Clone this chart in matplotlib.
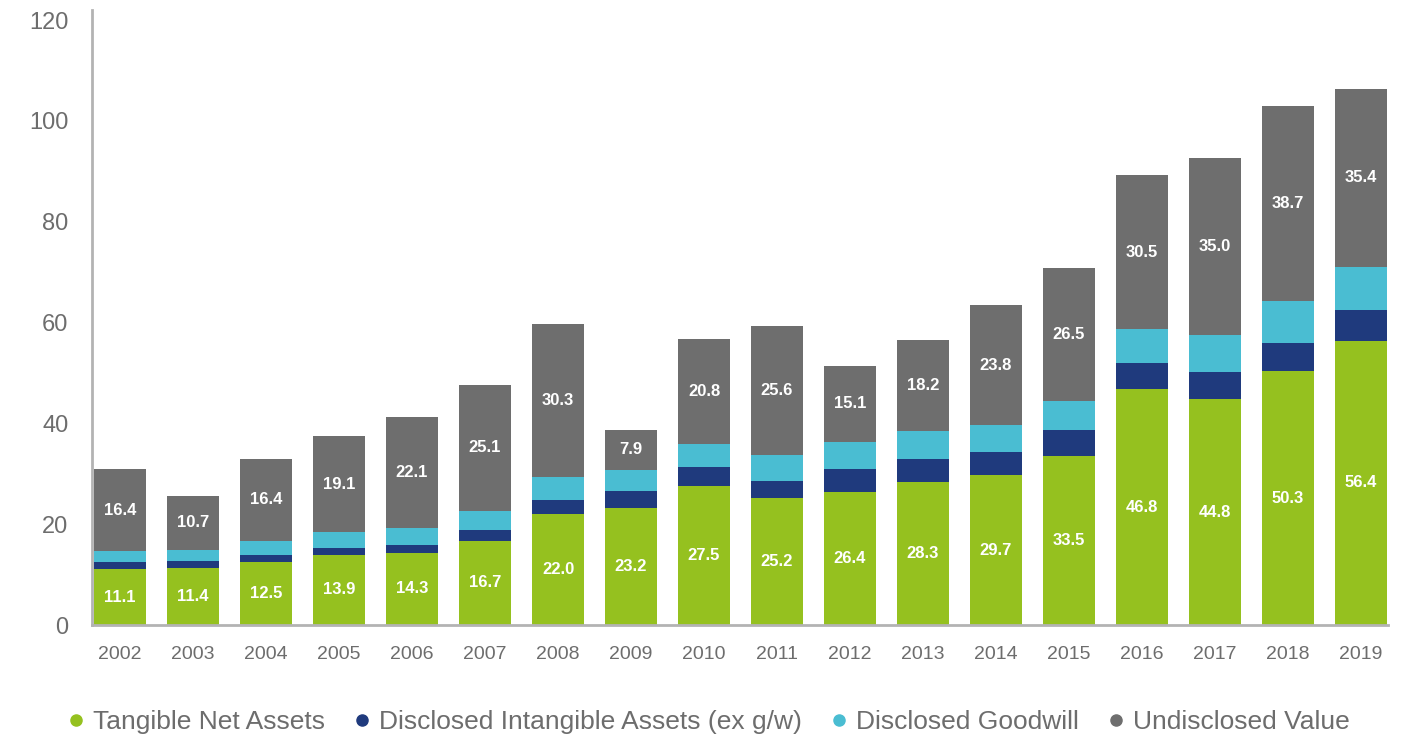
import numpy as np
import matplotlib
matplotlib.use("Agg")
import matplotlib.pyplot as plt
from matplotlib.lines import Line2D

plt.rcParams['font.family'] = ['Liberation Sans', 'DejaVu Sans']

years = ['2002', '2003', '2004', '2005', '2006', '2007', '2008', '2009', '2010',
         '2011', '2012', '2013', '2014', '2015', '2016', '2017', '2018', '2019']
tangible = [11.1, 11.4, 12.5, 13.9, 14.3, 16.7, 22.0, 23.2, 27.5,
            25.2, 26.4, 28.3, 29.7, 33.5, 46.8, 44.8, 50.3, 56.4]
intangible = [1.4, 1.2, 1.4, 1.4, 1.6, 2.1, 2.7, 3.3, 3.9,
              3.3, 4.5, 4.7, 4.6, 5.1, 5.1, 5.4, 5.7, 6.0]
goodwill = [2.1, 2.3, 2.7, 3.1, 3.3, 3.8, 4.7, 4.3, 4.5,
            5.2, 5.4, 5.4, 5.3, 5.8, 6.8, 7.4, 8.2, 8.6]
undisclosed = [16.4, 10.7, 16.4, 19.1, 22.1, 25.1, 30.3, 7.9, 20.8,
               25.6, 15.1, 18.2, 23.8, 26.5, 30.5, 35.0, 38.7, 35.4]

series = [
    ('Tangible Net Assets', tangible, '#95c11f', True),
    ('Disclosed Intangible Assets (ex g/w)', intangible, '#1f3a7d', False),
    ('Disclosed Goodwill', goodwill, '#4abdd2', False),
    ('Undisclosed Value', undisclosed, '#6e6e6e', True),
]

fig = plt.figure(figsize=(14.21, 7.40), dpi=100)
ax = fig.add_axes([92 / 1421, 115 / 740, 1296 / 1421, 615 / 740])

x = np.arange(len(years))
width = 0.72
bottom = np.zeros(len(years))
handles = []
for name, vals, color, labelled in series:
    vals = np.array(vals)
    ax.bar(x, vals, width, bottom=bottom, color=color, linewidth=0)
    if labelled:
        for xi, b, v in zip(x, bottom, vals):
            ax.text(xi, b + v / 2, '{0:.1f}'.format(v), ha='center', va='center',
                    color='white', fontsize=12, fontweight='bold')
    bottom += vals
    handles.append(Line2D([], [], marker='o', linestyle='none', color=color,
                          markersize=8, label=name))

ax.set_xlim(-0.384, 17.37)
ax.set_ylim(0, 122)
ax.set_yticks(range(0, 121, 20))
ax.set_xticks(x)
ax.set_xticklabels(years)

for side in ['top', 'right']:
    ax.spines[side].set_visible(False)
for side in ['left', 'bottom']:
    ax.spines[side].set_color('#b3b3b3')
    ax.spines[side].set_linewidth(2)

ax.tick_params(axis='y', length=0, pad=17, labelsize=17, labelcolor='#6d6d6d')
ax.tick_params(axis='x', length=0, pad=15, labelsize=14, labelcolor='#6d6d6d')

fig.legend(handles=handles, loc='center', bbox_to_anchor=(0.497, 18 / 740), ncol=4,
           frameon=False, fontsize=19, handletextpad=0.15, columnspacing=0.9,
           labelcolor='#6d6d6d', handlelength=1.0)

fig.savefig('out.png', dpi=100)
